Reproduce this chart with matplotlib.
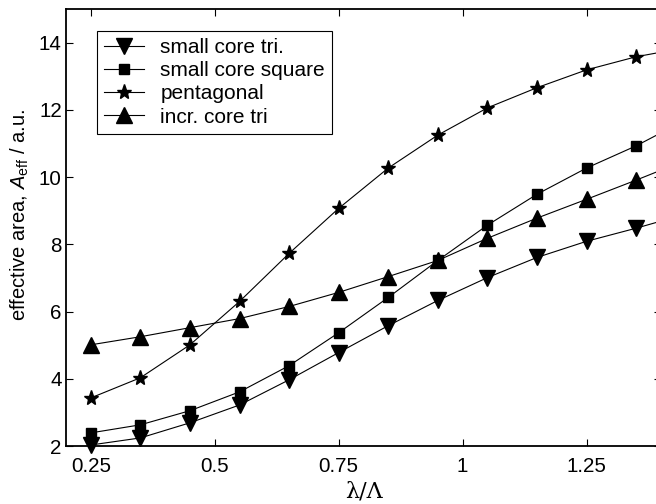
import matplotlib
matplotlib.use("Agg")
import matplotlib.pyplot as plt
import numpy as np

plt.rcParams['font.family'] = ['Liberation Sans', 'DejaVu Sans']
plt.rcParams['mathtext.fontset'] = 'custom'
plt.rcParams['mathtext.rm'] = 'Liberation Sans'
plt.rcParams['mathtext.it'] = 'Liberation Sans:italic'

# normalised wavelength lambda / pitch
wl = [0.25, 0.35, 0.45, 0.55, 0.65, 0.75, 0.85, 0.95, 1.05, 1.15, 1.25, 1.35, 1.45]

# effective mode area per fibre design
small_tri = [2.03, 2.24, 2.69, 3.22, 3.97, 4.78, 5.58, 6.33, 7.01, 7.61, 8.09, 8.48, 8.9]
small_sq = [2.39, 2.63, 3.05, 3.61, 4.39, 5.37, 6.42, 7.52, 8.57, 9.49, 10.27, 10.93, 11.7]
penta = [3.43, 4.03, 5.01, 6.30, 7.73, 9.07, 10.27, 11.25, 12.06, 12.66, 13.19, 13.58, 13.85]
incr_tri = [5.01, 5.25, 5.52, 5.79, 6.15, 6.57, 7.04, 7.52, 8.18, 8.78, 9.34, 9.91, 10.5]

labels = ['small core tri.', 'small core square', 'pentagonal', 'incr. core tri']

fig = plt.figure(figsize=(6.56, 5.04), dpi=100)
ax = fig.add_axes([66/656, 58/504, 595/656, 437/504])

style = dict(color='k', lw=0.8, clip_on=False)
ax.plot(wl, small_tri, marker='v', ms=11, label=labels[0], **style)
ax.plot(wl, small_sq, marker='s', ms=7.5, label=labels[1], **style)
ax.plot(wl, penta, marker='*', ms=11, label=labels[2], **style)
ax.plot(wl, incr_tri, marker='^', ms=11, label=labels[3], **style)

ax.set_xlim(0.2, 1.4)
ax.set_ylim(2, 15)
ax.set_xticks([0.25, 0.5, 0.75, 1, 1.25])
ax.set_xticklabels(['0.25', '0.5', '0.75', '1', '1.25'])
ax.set_yticks([2, 4, 6, 8, 10, 12, 14])

for s in ax.spines.values():
    s.set_linewidth(1.3)
ax.tick_params(direction='in', top=True, right=True, length=5, width=0.8,
               labelsize=14.8)
ax.tick_params(axis='x', pad=8)
ax.tick_params(axis='y', pad=3)

# y label placed by hand in figure pixels
fig.text(20/656, 1 - 215/504, r'effective area, $A_{\mathrm{eff}}$ / a.u.',
         rotation=90, ha='center', va='center', fontsize=14.5)
ax.set_xlabel('λ/Λ', fontsize=16, family='DejaVu Serif', labelpad=3)

leg = ax.legend(loc='upper left', bbox_to_anchor=(0.052, 0.95), fontsize=15,
                frameon=True, fancybox=False, edgecolor='k', framealpha=1,
                handlelength=1.9, handletextpad=0.8, labelspacing=0.2,
                borderpad=0.35, borderaxespad=0)
leg.get_frame().set_linewidth(0.8)

fig.savefig('out.png', dpi=100)
